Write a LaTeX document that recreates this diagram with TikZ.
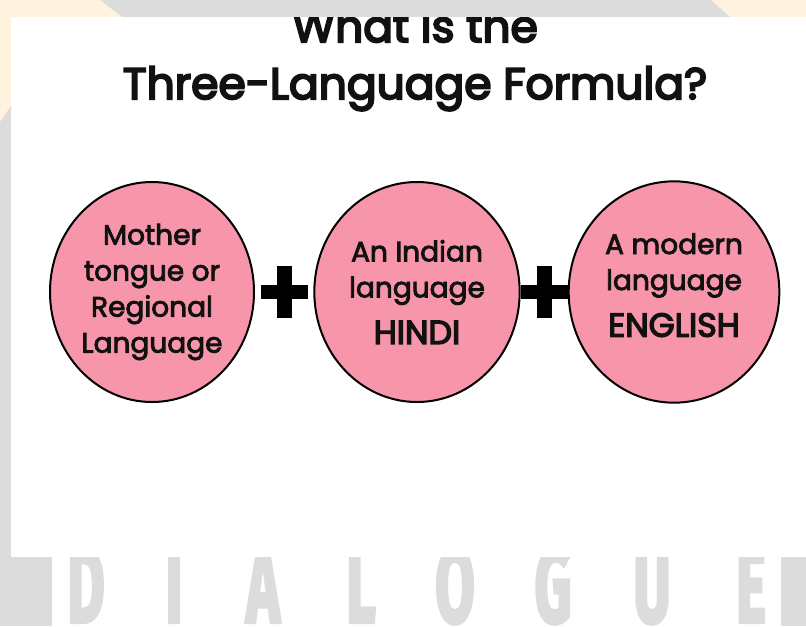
\documentclass[tikz,border=0pt]{standalone}
\usepackage{fontspec}
\setmainfont{Poppins}
\newfontfamily\pmed{Poppins}[FakeBold=3]
\newfontfamily\ptitle{Poppins}[FakeBold=4.5]
\newfontfamily\psemi{Poppins}[FakeBold=4]
\newfontfamily\wmfont{Fira Sans}[FakeBold=4]
\usetikzlibrary{shapes.geometric,calc}
\definecolor{cream}{HTML}{FFF3E0}
\definecolor{wmgray}{HTML}{DCDCDC}
\definecolor{pinkfill}{HTML}{F796AB}
\definecolor{inkc}{HTML}{111111}
\tikzset{
  lang/.style={ellipse, draw=black, line width=1.5pt, fill=pinkfill, inner sep=0pt,
    align=center, text=inkc, font=\pmed\fontsize{21}{27}\selectfont},
  wmletter/.style={anchor=base, text=wmgray, font=\wmfont\bfseries\fontsize{78}{78}\selectfont},
  titletext/.style={anchor=base, text=inkc, font=\ptitle\fontsize{33}{40}\selectfont},
  plusbar/.style={fill=black}
}
\begin{document}
\begin{tikzpicture}[x=0.75pt,y=-0.75pt]
\useasboundingbox (0,0) rectangle (806,626);
% background watermark
\fill[cream] (0,0) rectangle (806,626);
\fill[wmgray] (100,0) -- (711,0) -- (740,26) -- (134,26) -- cycle;
\fill[wmgray] (0,122) -- (11,106) -- (11,560) -- (0,560) -- cycle;
\fill[white] (0,557) rectangle (806,626);
\fill[wmgray] (0,557) rectangle (52,626);
\fill[wmgray] (781,557) rectangle (806,626);
% DIALOGUE letters
\foreach \l/\xx/\nm in {D/86/d,I/174/i,A/263/a,L/361/l,O/455/o,G/553/g,U/652/u,E/751/e}{
  \node[wmletter] (wm\nm) at (\xx,622) {\scalebox{0.55}[1]{\l}};
}
% white panel
\fill[white] (11,17) rectangle (806,557);
% title
\begin{scope}
\clip (11,17) rectangle (806,557);
\node[titletext] (t1) at (415,42) {What is the};
\end{scope}
\node[titletext] (t2) at (415,99) {Three-Language Formula?};
% circles
\node[lang, minimum width=153pt, minimum height=165pt] (c1) at (152,292)
  {Mother\\tongue or\\Regional\\Language};
\node[lang, minimum width=154pt, minimum height=165pt] (c2) at (417,292)
  {An Indian\\language\\[8pt]{\psemi\fontsize{25}{27}\selectfont HINDI}};
\node[lang, minimum width=158pt, minimum height=166pt] (c3) at (674,292)
  {A modern\\language\\[8pt]{\psemi\fontsize{25}{27}\selectfont ENGLISH}\\[-16.5pt]};
% plus signs
\coordinate (p1) at ($(c1.east)!0.5!(c2.west)$);
\coordinate (p2) at ($(c2.east)!0.5!(c3.west)$);
\foreach \p in {p1,p2}{
  \fill[plusbar] (\p) ++(-23.5,-7) rectangle ++(47,14);
  \fill[plusbar] (\p) ++(-7.5,-26) rectangle ++(15,52);
}
\end{tikzpicture}
\end{document}
